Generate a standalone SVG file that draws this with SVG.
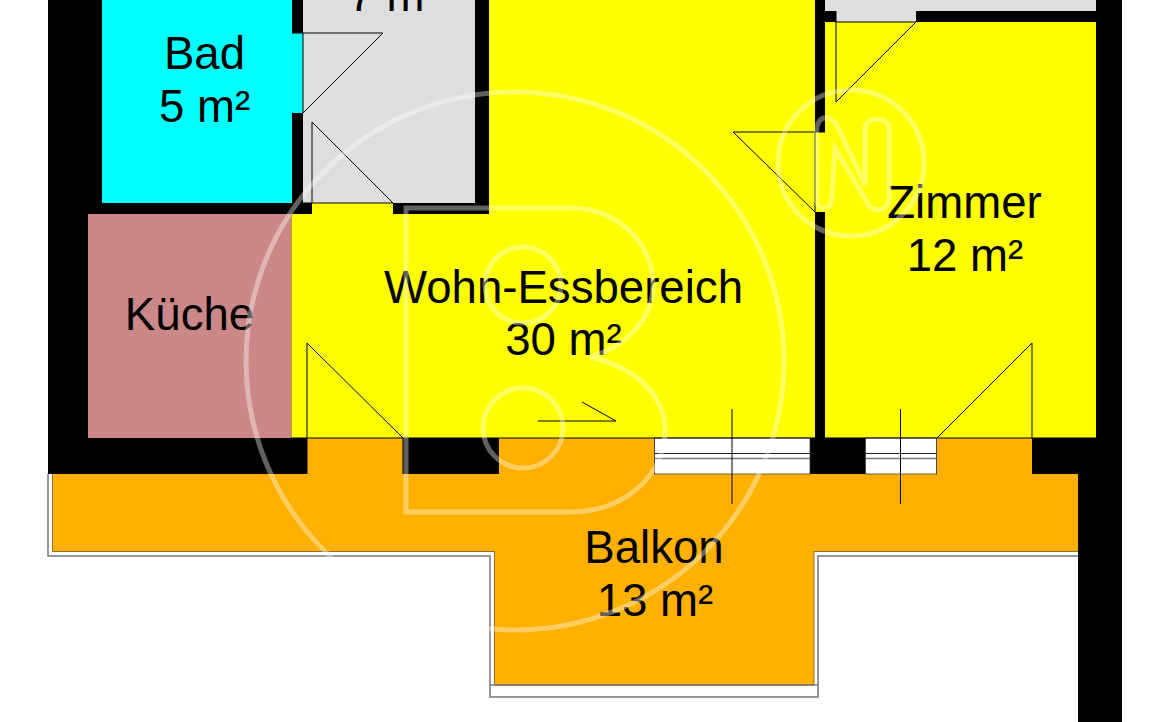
<svg xmlns="http://www.w3.org/2000/svg" width="1169" height="722" viewBox="0 0 1169 722">
<style>
.wall{fill:#000}
.t{font-family:"Liberation Sans",Arial,sans-serif;font-size:45.600px;fill:#000;text-anchor:middle}
.l{fill:none;stroke:#000;stroke-width:1}
.g{fill:none;stroke:#777;stroke-width:1.5}
.wm{fill:none;stroke:#fff;stroke-opacity:.38;stroke-width:5}
</style>
<rect width="1169" height="722" fill="#fff"/>
<g id="walls">
<rect class="wall" x="48" y="0" width="1074" height="474"/>
<rect class="wall" x="1078" y="474" width="44" height="248"/>
</g>
<g id="balkon">
<path d="M48 474V556H490V697H818V556H1078" fill="#fff" stroke="#777" stroke-width="1.5"/>
<path d="M52.500 474H307V438H403V474H499V438H654V474H810V474H937V438H1032V474H1078V551.500H814V685H494.500V551.500H52.500Z" fill="#ffb000"/>
<path d="M52.500 474V551.500H494.500V685H814V551.500H1078" fill="none" stroke="#5a4300" stroke-width=".7"/>
<path class="g" d="M490 685H818"/>
<text class="t" x="654" y="563">Balkon</text>
<text class="t" x="655" y="616">13 m²</text>
</g>
<g id="bad">
<path d="M102 0H292V33H303V113H292V203H102Z" fill="#00ffff"/>
<text class="t" x="204.500" y="69">Bad</text>
<text class="t" x="204.500" y="121.500">5 m²</text>
</g>
<g id="flur">
<rect x="303" y="0" width="172" height="203" fill="#dedede"/>
<rect x="312" y="203" width="81" height="11" fill="#ffff00"/>
<text class="t" x="394" y="11">7 m²</text>
</g>
<g id="kueche">
<rect x="88" y="214" width="203.500" height="224" fill="#cc8888"/>
<text class="t" x="189.500" y="330">Küche</text>
</g>
<g id="wohn">
<path d="M489 0H815V132H825V212H815V438H291.500V214H489Z" fill="#ffff00"/>
<text class="t" x="563.500" y="303">Wohn-Essbereich</text>
<text class="t" x="563.500" y="355">30 m²</text>
</g>
<g id="zimmer">
<rect x="825" y="0" width="271" height="11" fill="#dedede"/>
<rect x="836" y="11" width="80" height="11" fill="#dedede"/>
<rect x="825" y="22" width="271" height="416" fill="#ffff00"/>
<rect x="815" y="132" width="10" height="80" fill="#ffff00"/>
<text class="t" x="964.500" y="218">Zimmer</text>
<text class="t" x="965" y="271">12 m²</text>
</g>
<g id="fenster">
<rect x="654.500" y="438" width="155.500" height="36" fill="#fff" stroke="#333" stroke-width=".7"/>
<rect x="865.500" y="438" width="71" height="36" fill="#fff" stroke="#333" stroke-width=".7"/>
<path d="M654.500 453.500H810M865.500 453.500H936.500" stroke="#222" stroke-width="1"/>
<path d="M654.500 458.500H810M865.500 458.500H936.500" stroke="#777" stroke-width="1.500"/>
</g>
<g id="connectors">
<path class="l" d="M291 438H1096"/>
<path class="l" d="M303 33V113L383 33H292" stroke="#555"/>
<path class="l" d="M312 203V122L393 203H303"/>
<path class="l" d="M307 438V343L403 438V474"/>
<path class="l" d="M1032 438V343L937 438"/>
<path class="l" d="M307 438V474M815 132V212L733 132H825"/>
<path class="l" d="M836 22H916L836 102V11"/>
<path class="l" d="M538 421H616L582 402"/>
<path class="l" d="M732 409V504M900.500 409V504"/>
</g>
<g id="watermark">
<circle class="wm" cx="515" cy="361" r="269"/>
<circle class="wm" cx="851" cy="163" r="73"/>
<path class="wm" d="M406 208H570C620 208 653 245 653 285C653 320 625 347 590 357C635 367 665 395 665 430C665 475 625 512 570 512H406Z"/>
<circle class="wm" cx="523" cy="285" r="38"/>
<circle class="wm" cx="523" cy="428" r="40"/>
<path class="wm" d="M816.700 131.700C816.700 123 820 117.700 826 117.700C831 117.700 834 120 836.700 125L865 185V128.300C865 123 870 119.300 877.300 119.300C884 119.300 889.300 123 889.300 128.300V195C889.300 205 885 210 878.300 210C873 210 869 207 866.700 201.700L835 148.300L831.700 198C831 204 829 208.300 824 208.300C819 208.300 816.700 205 816.700 200Z"/>
</g>
</svg>
